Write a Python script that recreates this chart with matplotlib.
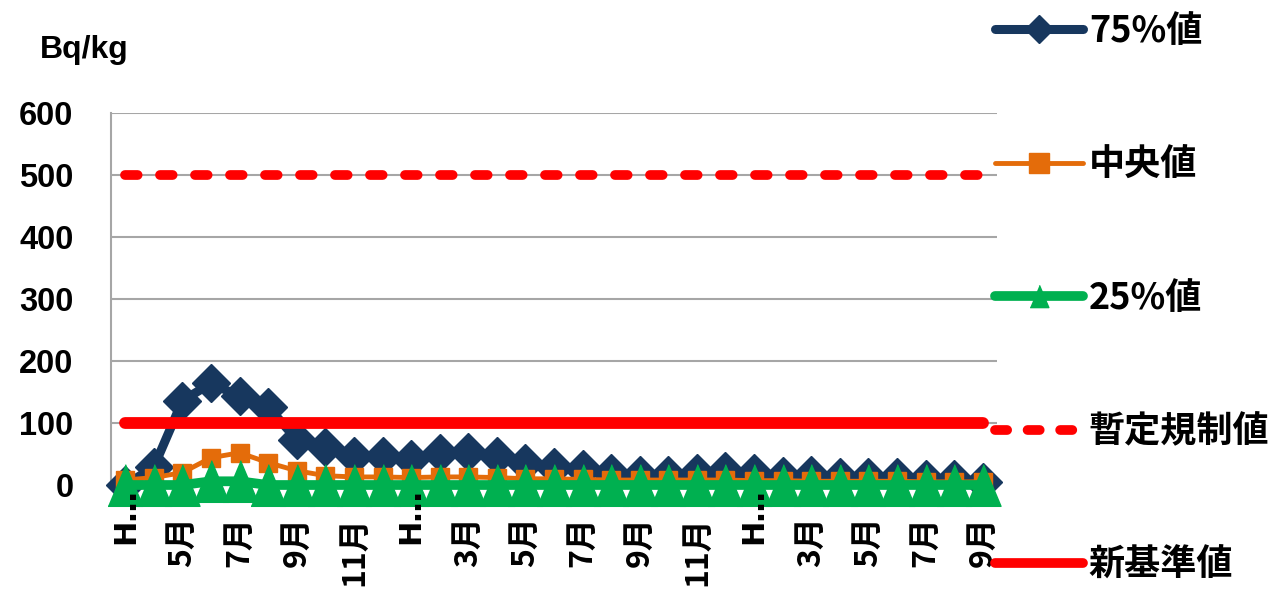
import matplotlib
matplotlib.use("Agg")
import matplotlib.pyplot as plt
from matplotlib.lines import Line2D
import numpy as np

# ---- data ----
categories = ["H23年3月", "4月", "5月", "6月", "7月", "8月", "9月", "10月", "11月", "12月",
              "H24年1月", "2月", "3月", "4月", "5月", "6月", "7月", "8月", "9月", "10月",
              "11月", "12月", "H25年1月", "2月", "3月", "4月", "5月", "6月", "7月", "8月", "9月"]
tick_labels = ["H…", "", "5月", "", "7月", "", "9月", "", "11月", "",
               "H…", "", "3月", "", "5月", "", "7月", "", "9月", "",
               "11月", "", "H…", "", "3月", "", "5月", "", "7月", "", "9月"]
p75 = [0, 29, 136, 164, 143, 126, 73, 62, 47, 47, 42, 52, 53, 47, 36, 29,
       26, 19, 16, 16, 19, 23, 19, 15, 16, 13, 13, 13, 10, 10, 5]
median = [8, 12, 20, 44, 52, 36, 23, 15, 13, 13, 12, 13, 13, 12, 10, 10,
          9, 8, 8, 8, 8, 8, 7, 7, 6, 6, 6, 6, 5, 5, 5]
p25 = [0, 0, 0, 6, 6, 0, 0, 0, 0, 0, 0, 0, 0, 0, 0, 0,
       0, 0, 0, 0, 0, 0, 0, 0, 0, 0, 0, 0, 0, 0, 0]
provisional = [500] * 31
new_standard = [100] * 31
series_names = ["75%値", "中央値", "25%値", "暫定規制値", "新基準値"]
yticks = [0, 100, 200, 300, 400, 500, 600]

C_BLUE = "#17375E"
C_ORANGE = "#E46C0A"
C_GREEN = "#00B050"
C_RED = "#FF0000"
C_GRID = "#A6A6A6"

W, H = 1278, 599
fig = plt.figure(figsize=(W / 100, H / 100), dpi=100)
ax = fig.add_axes([111 / W, 1 - 485 / H, (997 - 111) / W, (485 - 113) / H])

x = np.arange(len(categories))
tri = [(-0.42, -0.5), (0.42, -0.5), (0.0, 0.5)]

ax.plot(x, p75, color=C_BLUE, lw=6.5, marker="D", ms=19.5, mec=C_BLUE, mfc=C_BLUE,
        solid_joinstyle="round", solid_capstyle="round", clip_on=False, zorder=3)
ax.plot(x, median, color=C_ORANGE, lw=3.5, marker="s", ms=13.5, mec=C_ORANGE, mfc=C_ORANGE,
        solid_joinstyle="round", clip_on=False, zorder=4)
ax.plot(x, p25, color=C_GREEN, lw=7, marker=tri, ms=30, mec=C_GREEN, mfc=C_GREEN,
        solid_joinstyle="round", clip_on=False, zorder=5)
ax.plot(x, provisional, color=C_RED, lw=7, dashes=(1.3, 2.3), dash_capstyle="round",
        clip_on=False, zorder=6)
ax.plot(x, new_standard, color=C_RED, lw=8.5, solid_capstyle="round", clip_on=False, zorder=7)

ax.set_xlim(-0.5, len(categories) - 0.5)
ax.set_ylim(0, 600)
ax.set_yticks(yticks)
ax.yaxis.grid(True, color=C_GRID, lw=1.5)
ax.set_axisbelow(True)
for s in ["top", "right"]:
    ax.spines[s].set_visible(False)
ax.spines["left"].set_color(C_GRID)
ax.spines["left"].set_linewidth(1.5)
ax.spines["bottom"].set_color(C_GRID)
ax.spines["bottom"].set_linewidth(1.5)
ax.set_xticks([])
ax.tick_params(axis="y", length=0, pad=27, labelsize=23.5)
for lab in ax.get_yticklabels():
    lab.set_fontfamily("Liberation Sans")
    lab.set_fontweight("bold")

trans = ax.get_xaxis_transform()
ax_h = 485 - 113
for i, lab in enumerate(tick_labels):
    if not lab:
        continue
    if lab.startswith("H"):
        ax.text(i, (485 - 544) / ax_h, lab, rotation=90, ha="center", va="bottom",
                transform=trans, fontsize=22, fontweight="bold",
                family=["DejaVu Sans"], clip_on=False, zorder=8)
    else:
        ax.text(i, (485 - 516) / ax_h, lab, rotation=90, ha="center", va="top",
                transform=trans, fontsize=23, fontweight="bold",
                family=["Noto Sans CJK JP", "DejaVu Sans"], clip_on=False)

fig.text(40 / W, 1 - 50 / H, "Bq/kg", ha="left", va="center", fontsize=23,
         fontweight="bold", family="Liberation Sans")

handles = [
    Line2D([], [], color=C_BLUE, lw=6.5, marker="D", ms=14, solid_capstyle="round"),
    Line2D([], [], color=C_ORANGE, lw=3.5, marker="s", ms=14, solid_capstyle="round"),
    Line2D([], [], color=C_GREEN, lw=7, marker=tri, ms=16, solid_capstyle="round"),
    Line2D([], [], color=C_RED, lw=7, dashes=(1.25, 2.1), dash_capstyle="round"),
    Line2D([], [], color=C_RED, lw=7, solid_capstyle="round"),
]
leg = fig.legend(handles, series_names, loc="upper left",
                 bbox_to_anchor=(995 / W, 1 - 13 / H), bbox_transform=fig.transFigure,
                 frameon=False, borderpad=0, borderaxespad=0,
                 handlelength=2.45, handletextpad=0.15, labelspacing=2.67,
                 prop={"family": ["Noto Sans CJK JP", "DejaVu Sans"], "size": 26,
                       "weight": "bold"})

fig.savefig("out.png", dpi=100)
